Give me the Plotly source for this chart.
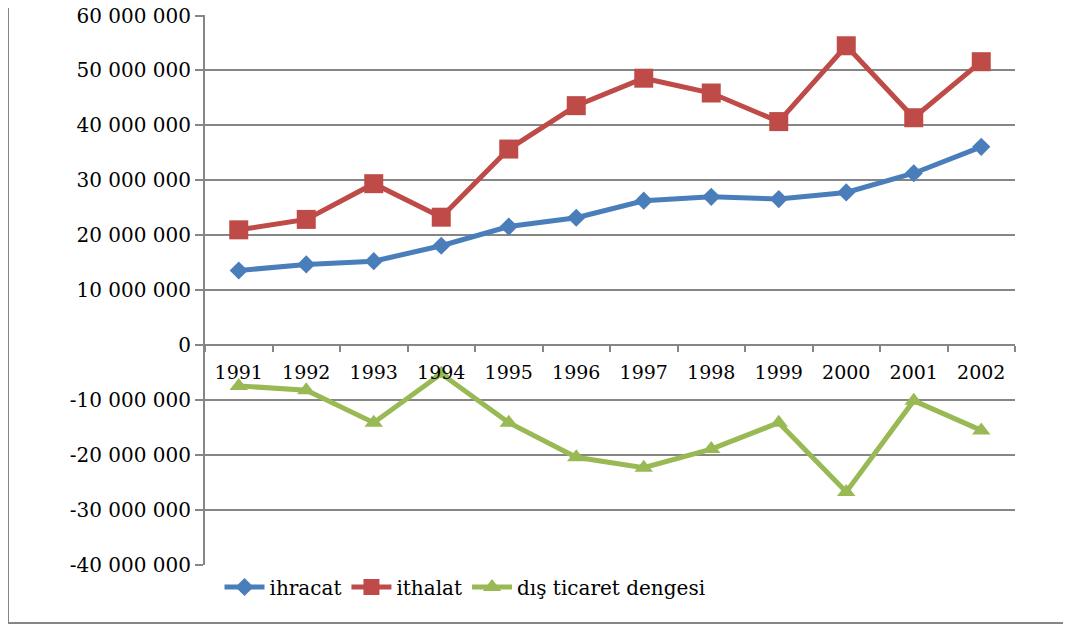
import plotly.graph_objects as go

years = ["1991", "1992", "1993", "1994", "1995", "1996", "1997", "1998", "1999", "2000", "2001", "2002"]
ihracat = [13.6e6, 14.7e6, 15.3e6, 18.1e6, 21.6e6, 23.2e6, 26.3e6, 27.0e6, 26.6e6, 27.8e6, 31.3e6, 36.1e6]
ithalat = [21.0e6, 22.9e6, 29.4e6, 23.3e6, 35.7e6, 43.6e6, 48.6e6, 45.9e6, 40.7e6, 54.5e6, 41.4e6, 51.6e6]
denge = [-7.4e6, -8.2e6, -14.1e6, -5.2e6, -14.1e6, -20.4e6, -22.3e6, -18.9e6, -14.1e6, -26.7e6, -10.1e6, -15.5e6]
ytick_vals = [-40e6, -30e6, -20e6, -10e6, 0, 10e6, 20e6, 30e6, 40e6, 50e6, 60e6]
ytick_text = ["-40 000 000", "-30 000 000", "-20 000 000", "-10 000 000", "0",
              "10 000 000", "20 000 000", "30 000 000", "40 000 000",
              "50 000 000", "60 000 000"]

SERIF = "DejaVu Serif"
GRID = "#868686"

# page body has an 8px margin; compensate so the plot lands where the reference has it
OFF = 8
L, R, T, B = 205 - OFF, 56, 15 - OFF, 60
W, H = 1071 - OFF, 625 - OFF
PW, PH = W - L - R, H - T - B

fig = go.Figure()
fig.add_trace(go.Scatter(x=years, y=ihracat, name="ihracat", mode="lines+markers",
                         line=dict(color="#4A7EBB", width=5),
                         marker=dict(symbol="diamond", size=14, color="#4A7EBB")))
fig.add_trace(go.Scatter(x=years, y=ithalat, name="ithalat", mode="lines+markers",
                         line=dict(color="#BE4B48", width=5),
                         marker=dict(symbol="square", size=19, color="#BE4B48")))
fig.add_trace(go.Scatter(x=years, y=denge, name="dış ticaret dengesi", mode="lines+markers",
                         line=dict(color="#98B954", width=5),
                         marker=dict(symbol="triangle-up", size=16, color="#98B954")))

fig.update_layout(
    template="none",
    width=W, height=H, autosize=False,
    margin=dict(l=L, r=R, t=T, b=B, pad=0),
    paper_bgcolor="white", plot_bgcolor="white",
    font=dict(family=SERIF, size=20, color="black"),
    showlegend=True,
    legend=dict(orientation="h", x=(465 - 205) / PW, xanchor="center",
                y=(565 - 587) / PH, yanchor="middle",
                font=dict(family=SERIF, size=20, color="black"), itemwidth=40, tracegroupgap=0,
                bgcolor="rgba(0,0,0,0)"),
    xaxis=dict(type="category", range=[-0.5, 11.5], showgrid=False, zeroline=False,
               showline=True, linecolor=GRID, linewidth=2, automargin=False,
               anchor="free", position=0.4, side="bottom",
               ticks="outside", tickson="boundaries", ticklen=6, tickcolor=GRID, tickwidth=2,
               ticklabelstandoff=10, tickangle=0,
               tickfont=dict(family=SERIF, size=19, color="black")),
    yaxis=dict(range=[-40e6, 60.1e6], tickvals=ytick_vals, ticktext=ytick_text,
               showgrid=True, gridcolor=GRID, gridwidth=2, zeroline=False,
               showline=True, linecolor=GRID, linewidth=2, automargin=False,
               ticks="outside", ticklen=8, tickcolor=GRID, tickwidth=2,
               ticklabeloverflow="allow",
               tickfont=dict(family=SERIF, size=20, color="black")),
)
fig.add_shape(type="rect", xref="paper", yref="paper",
              x0=(8 - 205) / PW, x1=(1090 - 205) / PW,
              y0=(565 - 623) / PH, y1=(565 - 1) / PH,
              line=dict(color=GRID, width=2), layer="below")

fig.write_html("out.html")
